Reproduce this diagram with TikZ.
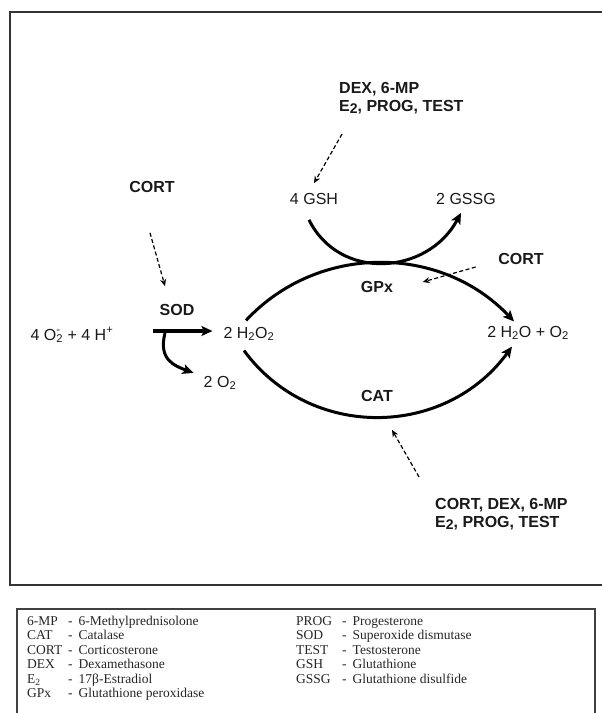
\documentclass[tikz,border=0pt]{standalone}
\usepackage{fontspec}
\setmainfont{Liberation Serif}
\setsansfont{Liberation Sans}
\usetikzlibrary{arrows.meta,calc}
\newcommand{\Etwo}{E\raisebox{-0.3ex}{\fontsize{14}{14}\selectfont 2}}

\begin{document}
\begin{tikzpicture}[x=1pt,y=-1pt,
  lbl/.style={font=\sffamily\fontsize{16}{18}\selectfont,inner sep=1pt,text=black!90},
  enz/.style={lbl,font=\sffamily\bfseries\fontsize{16}{18}\selectfont},
  rxn/.style={line width=3pt,-{Stealth[length=11pt,width=10pt,inset=2.5pt]}},
  eff/.style={line width=1.2pt,dash pattern=on 4pt off 2.5pt,-{Stealth[length=7pt,width=6pt]}},
  leg/.style={anchor=north west,inner sep=0pt,font=\fontsize{13.5}{14.5}\selectfont,text=black!85}]
\useasboundingbox (0,0) rectangle (602,713);
% frame of the scheme
\draw[line width=2.5pt,black!80] (602,12) -- (10,12) -- (10,585) -- (602,585);
% species
\node[lbl] (sup) at (72,335) {4 O\rlap{\textsuperscript{-}}\textsubscript{2} + 4 H\textsuperscript{+}};
\node[lbl] (h2o2) at (249,334) {2 H\textsubscript{2}O\textsubscript{2}};
\node[lbl] (prod) at (528,333) {2 H\textsubscript{2}O + O\textsubscript{2}};
\node[lbl] (o2) at (220,383) {2 O\textsubscript{2}};
\node[lbl] (gsh) at (314,199) {4 GSH};
\node[lbl] (gssg) at (466,199) {2 GSSG};
% enzymes and hormones
\node[enz] (sod) at (177,310) {SOD};
\node[enz] (gpx) at (377,287) {GPx};
\node[enz] (cat) at (377,396) {CAT};
\node[enz] (cortA) at (152,187) {CORT};
\node[enz] (cortB) at (521,259) {CORT};
\node[enz,anchor=west,align=left] (top) at (338,98) {DEX, 6-MP\\\Etwo, PROG, TEST};
\node[enz,anchor=west,align=left] (bot) at (434,514) {CORT, DEX, 6-MP\\\Etwo, PROG, TEST};
% reactions
\coordinate (sodin) at (153,331);
\draw[rxn,line width=3.5pt] (sodin) -- ($(sodin -| h2o2.west)+(-10,0)$);
\draw[rxn] ($(sodin)+(12,2)$) .. controls (158,360) and (175,366) .. ($(o2.north west)+(-9,-2)$);
\draw[rxn] ($(h2o2.north)+(-3,-5.5)$) .. controls (318.6,242.7) and (441.4,244.7) .. ($(prod.north)+(-14,-3.5)$);
\draw[rxn] ($(h2o2.south)+(-5,8.5)$) .. controls (310.6,441) and (445.4,438) .. ($(prod.south)+(-16,5.5)$);
\draw[rxn] ($(gsh.south)+(-5,14)$) .. controls (340,282) and (428,274.5) .. ($(gssg.south)+(-5,7)$);
% hormone effects
\draw[eff] ($(cortA.south)+(-2,39)$) -- ($(sod.north)+(-12,-17)$);
\draw[eff] ($(top.south west)+(4,19)$) -- ($(gsh.north)+(0,-9)$);
\draw[eff] ($(cortB.west)+(-21.5,8)$) -- ($(gpx.east)+(28.5,-5)$);
\draw[eff] ($(bot.north west)+(-15,-20)$) -- ($(cat.south)+(15,27)$);
% legend
\draw[line width=1.2pt,black!75] (17,713) -- (17,609) -- (595,609) -- (595,713);
\node[leg] (legL) at (27,615) {\begin{tabular}{@{}p{41pt}@{}l@{\hspace{6pt}}l@{}}
6-MP & - & 6-Methylprednisolone\\
CAT & - & Catalase\\
CORT & - & Corticosterone\\
DEX & - & Dexamethasone\\
E\textsubscript{2} & - & 17β-Estradiol\\
GPx & - & Glutathione peroxidase
\end{tabular}};
\node[leg] (legR) at (296,615) {\begin{tabular}{@{}p{46pt}@{}l@{\hspace{6pt}}l@{}}
PROG & - & Progesterone\\
SOD & - & Superoxide dismutase\\
TEST & - & Testosterone\\
GSH & - & Glutathione\\
GSSG & - & Glutathione disulfide
\end{tabular}};
\end{tikzpicture}
\end{document}
